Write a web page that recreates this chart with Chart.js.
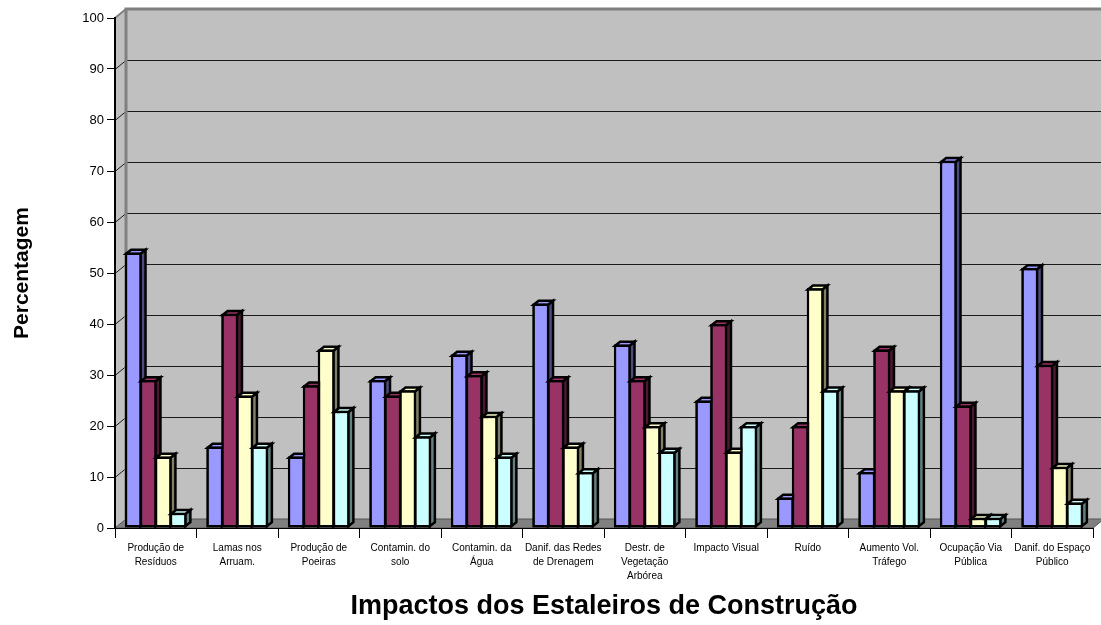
<!DOCTYPE html>
<html>
<head>
<meta charset="utf-8">
<script src="https://cdn.jsdelivr.net/npm/chart.js@4/dist/chart.umd.min.js"></script>
<style>
  html, body { margin: 0; padding: 0; background: #fff; }
</style>
</head>
<body>
<canvas id="myChart" width="1101" height="625"></canvas>
<script>
const categories = [
  ['Produção de', 'Resíduos'],
  ['Lamas nos', 'Arruam.'],
  ['Produção de', 'Poeiras'],
  ['Contamin. do', 'solo'],
  ['Contamin. da', 'Água'],
  ['Danif. das Redes', 'de Drenagem'],
  ['Destr. de', 'Vegetação', 'Arbórea'],
  ['Impacto Visual'],
  ['Ruído'],
  ['Aumento Vol.', 'Tráfego'],
  ['Ocupação Via', 'Pública'],
  ['Danif. do Espaço', 'Público']
];
const serie1 = [54, 16, 14, 29, 34, 44, 36, 25, 6, 11, 72, 51];
const serie2 = [29, 42, 28, 26, 30, 29, 29, 40, 20, 35, 24, 32];
const serie3 = [14, 26, 35, 27, 22, 16, 20, 15, 47, 27, 2, 12];
const serie4 = [3, 16, 23, 18, 14, 11, 15, 20, 27, 27, 2, 5];
const yMin = 0, yMax = 100, yStep = 10;

const front = ['#9999ff', '#993366', '#ffffcc', '#ccffff'];
const side = ['#4c4c80', '#4c1933', '#808066', '#668080'];

// depth of the walls and of each bar
const WX = 11, WY = -9;
const BX = 5, BY = -4;
const EDGE = 2.5;

Chart.defaults.font.family = "'Liberation Sans', Arial, sans-serif";
Chart.defaults.color = '#000';

function poly(ctx, pts, fill, stroke, lw) {
  ctx.beginPath();
  ctx.moveTo(pts[0][0], pts[0][1]);
  for (let i = 1; i < pts.length; i++) ctx.lineTo(pts[i][0], pts[i][1]);
  ctx.closePath();
  if (fill) { ctx.fillStyle = fill; ctx.fill(); }
  if (stroke) { ctx.strokeStyle = stroke; ctx.lineWidth = lw; ctx.stroke(); }
}

const walls = {
  id: 'walls',
  beforeDraw(chart) {
    const ctx = chart.ctx, a = chart.chartArea, y = chart.scales.y;
    ctx.save();
    // back wall, left wall, floor
    ctx.fillStyle = '#c0c0c0';
    ctx.fillRect(a.left + WX, a.top + WY, a.right - a.left, a.bottom - a.top);
    poly(ctx, [[a.left, a.top], [a.left + WX, a.top + WY], [a.left + WX, a.bottom + WY], [a.left, a.bottom]], '#c0c0c0');
    poly(ctx, [[a.left, a.bottom], [a.left + WX, a.bottom + WY], [a.right + WX, a.bottom + WY], [a.right, a.bottom]], '#808080', '#555', 1);
    // grid lines on the back wall
    ctx.strokeStyle = '#1a1a1a';
    ctx.lineWidth = 1;
    y.ticks.forEach(t => {
      if (t.value <= yMin || t.value >= yMax) return;
      const py = Math.round(y.getPixelForValue(t.value)) + 0.5;
      ctx.beginPath();
      ctx.moveTo(a.left, py);
      ctx.lineTo(a.left + WX, py + WY);
      ctx.lineTo(a.right + WX, py + WY);
      ctx.stroke();
    });
    // wall edges
    ctx.strokeStyle = '#808080';
    ctx.lineWidth = 3;
    ctx.beginPath();
    ctx.moveTo(a.left + WX, a.bottom + WY);
    ctx.lineTo(a.left + WX, a.top + WY);
    ctx.lineTo(a.right + WX, a.top + WY);
    ctx.stroke();
    ctx.lineWidth = 2;
    ctx.beginPath();
    ctx.moveTo(a.left, a.top);
    ctx.lineTo(a.left + WX, a.top + WY);
    ctx.stroke();
    ctx.restore();
  }
};

const bars3d = {
  id: 'bars3d',
  afterDatasetsDraw(chart) {
    const ctx = chart.ctx;
    const h = EDGE / 2;
    chart.data.datasets.forEach((ds, i) => {
      chart.getDatasetMeta(i).data.forEach(bar => {
        const p = bar.getProps(['x', 'y', 'base', 'width'], true);
        const l = p.x - p.width / 2 + h, r = p.x + p.width / 2 - h;
        const t = p.y + h, b = p.base - h;
        ctx.save();
        ctx.lineJoin = 'miter';
        poly(ctx, [[r, t], [r + BX, t + BY], [r + BX, b + BY], [r, b]], side[i], '#000', EDGE);
        poly(ctx, [[l, t], [l + BX, t + BY], [r + BX, t + BY], [r, t]], front[i], '#000', EDGE);
        ctx.restore();
        bar.draw(ctx);
      });
    });
  }
};

const mk = (label, data, i) => ({
  label: label,
  data: data,
  backgroundColor: front[i],
  borderColor: '#000',
  borderWidth: EDGE,
  borderSkipped: false,
  inflateAmount: 0,
  categoryPercentage: 0.734,
  barPercentage: 1.13
});

const ctx = document.getElementById('myChart').getContext('2d');
const myChart = new Chart(ctx, {
  type: 'bar',
  data: {
    labels: categories,
    datasets: [
      mk('Série 1', serie1, 0),
      mk('Série 2', serie2, 1),
      mk('Série 3', serie3, 2),
      mk('Série 4', serie4, 3)
    ]
  },
  options: {
    responsive: false,
    animation: false,
    layout: { padding: { top: 18, right: 8, left: 0, bottom: 0 } },
    plugins: { legend: { display: false }, tooltip: { enabled: false } },
    scales: {
      x: {
        grid: { drawOnChartArea: false, offset: true, color: '#000', tickLength: 10 },
        border: { color: '#000', width: 1 },
        ticks: { autoSkip: false, maxRotation: 0, minRotation: 0, padding: 3,
                 font: { size: 10, lineHeight: 1.4 } },
        title: { display: true, text: 'Impactos dos Estaleiros de Construção',
                 font: { size: 27, weight: 'bold' }, padding: { top: 0, bottom: 2 } },
        afterFit(s) { s.height = 97; }
      },
      y: {
        min: yMin, max: yMax,
        ticks: { stepSize: yStep, padding: 3, font: { size: 13 } },
        grid: { drawOnChartArea: false, color: '#000', tickLength: 8 },
        border: { color: '#000', width: 2 },
        title: { display: true, text: 'Percentagem', font: { size: 21, weight: 'bold' },
                 padding: { top: 10, bottom: 0 } },
        afterFit(s) { s.width = 115; }
      }
    }
  },
  plugins: [walls, bars3d]
});
</script>
</body>
</html>
